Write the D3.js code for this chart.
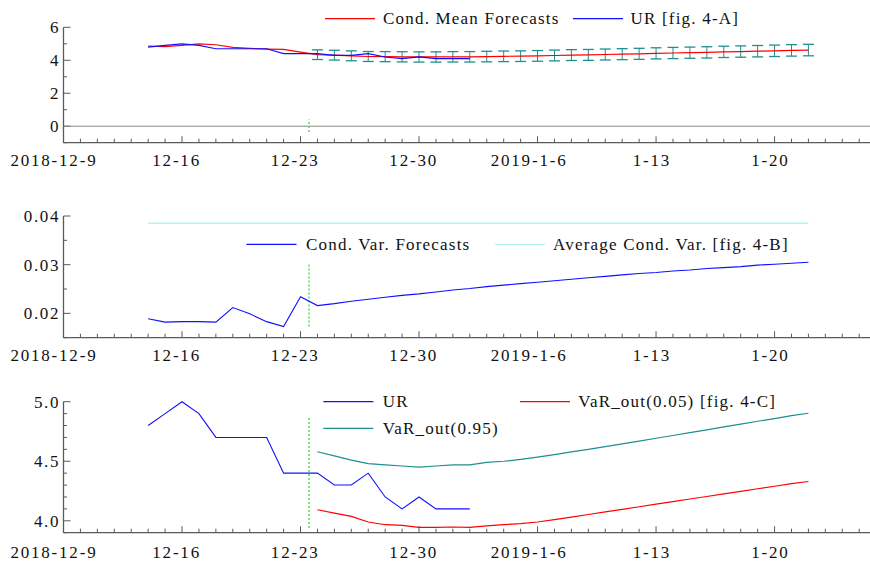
<!DOCTYPE html>
<html>
<head>
<meta charset="utf-8">
<script src="https://cdn.jsdelivr.net/npm/d3@7"></script>
<style>
  html, body { margin: 0; padding: 0; background: #fff; }
</style>
</head>
<body>
<svg id="chart" width="870" height="562"></svg>
<script>
// ---------------- DATA ----------------
const dates = [
  "2018-12-14","2018-12-15","2018-12-16","2018-12-17","2018-12-18","2018-12-19","2018-12-20",
  "2018-12-21","2018-12-22","2018-12-23","2018-12-24","2018-12-25","2018-12-26","2018-12-27",
  "2018-12-28","2018-12-29","2018-12-30","2018-12-31","2019-01-01","2019-01-02","2019-01-03",
  "2019-01-04","2019-01-05","2019-01-06","2019-01-07","2019-01-08","2019-01-09","2019-01-10",
  "2019-01-11","2019-01-12","2019-01-13","2019-01-14","2019-01-15","2019-01-16","2019-01-17",
  "2019-01-18","2019-01-19","2019-01-20","2019-01-21","2019-01-22"
];
// observed UR (12-14 .. 1-2)
const urValues = [4.8,4.9,5.0,4.9,4.7,4.7,4.7,4.7,4.4,4.4,4.4,4.3,4.3,4.4,4.2,4.1,4.2,4.1,4.1,4.1];
// conditional mean (in-sample 12-14..12-23, forecasts 12-24..1-22)
const condMean = [4.86,4.83,4.90,5.00,4.94,4.78,4.72,4.68,4.66,4.49,
  4.34,4.31,4.27,4.23,4.22,4.21,4.20,4.20,4.21,4.21,4.225,4.24,4.25,4.265,4.29,4.315,4.325,
  4.35,4.37,4.39,4.42,4.44,4.46,4.48,4.51,4.53,4.55,4.575,4.60,4.62];
// error bar half widths for forecasts (12-24..1-22)
const errHalf = [0.294,0.297,0.300,0.302,0.305,0.308,0.310,0.312,0.315,0.317,0.319,0.321,0.323,
  0.325,0.327,0.329,0.331,0.332,0.334,0.336,0.337,0.339,0.340,0.342,0.343,0.344,0.346,0.347,0.348,0.349];
// conditional variance (12-14 .. 1-22)
const condVar = [0.0189,0.0182,0.0183,0.0183,0.0182,0.0212,0.0199,0.0183,0.0173,0.0234,
  0.0216,0.0220,0.0225,0.0229,0.0233,0.0237,0.0240,0.0244,0.0248,0.0251,0.0255,0.0258,0.0261,
  0.0264,0.0267,0.0270,0.0273,0.0276,0.0279,0.0282,0.0284,0.0287,0.0289,0.0292,0.0294,0.0296,
  0.0299,0.0301,0.0303,0.0305];
const avgCondVar = 0.0385;
// VaR bounds (12-24 .. 1-22)
const varHigh = [4.58,4.545,4.51,4.48,4.47,4.46,4.45,4.46,4.47,4.47,
  4.49,4.50,4.515,4.535,4.555,4.578,4.60,
  4.622,4.646,4.669,4.693,4.716,4.740,4.763,4.788,4.811,4.836,4.858,4.883,4.903];
const varLow = [4.093,4.065,4.037,3.99,3.967,3.962,3.945,3.945,3.948,3.945,
  3.958,3.967,3.976,3.99,4.01,4.03,4.053,
  4.075,4.096,4.118,4.14,4.161,4.183,4.204,4.226,4.247,4.269,4.29,4.312,4.33];
const forecastOrigin = "2018-12-23T12:00";
const xTickDates = ["2018-12-09","2018-12-16","2018-12-23","2018-12-30","2019-01-06","2019-01-13","2019-01-20"];
const xTickLabels = ["2018-12-9","12-16","12-23","12-30","2019-1-6","1-13","1-20"];
const topYMajor = [0,2,4,6], topYMinor = [-1,1,3,5];
const midYMajor = [0.02,0.03,0.04], midYMinor = [0.015,0.025,0.035];
const botYMajor = [4.0,4.5,5.0], botYMinor = [3.9,4.1,4.2,4.3,4.4,4.6,4.7,4.8,4.9];
const topYLabels = ["0","2","4","6"], midYLabels = ["0.02","0.03","0.04"], botYLabels = ["4.0","4.5","5.0"];

// ---------------- SETUP ----------------
const FAMILY = '"Liberation Serif", serif';
const parse = s => new Date(s + (s.length === 10 ? "T00:00:00Z" : ":00Z"));
const svg = d3.select("#chart");
svg.append("rect").attr("width", 870).attr("height", 562).attr("fill", "#fff");

const x = d3.scaleUtc()
  .domain([parse("2018-12-09"), parse("2019-01-26")])
  .range([63.5, 63.5 + 48 * 16.93]);
const X_RIGHT = 870;

const C = { red: "#ff0000", blue: "#1010ff", teal: "#1f8f8f", cyan: "#b0f6f6", green: "#5ad85a", axis: "#5a5a5a", zero: "#8a8a8a" };
const FONT = 17;

const allDays = d3.utcDay.range(parse("2018-12-09"), parse("2019-01-27"));

function txt(sel) {
  return sel.style("font-family", FAMILY).attr("font-size", FONT).attr("fill", "#111");
}

function panel(cfg) {
  const y = d3.scaleLinear().domain(cfg.domain).range([cfg.bottom, cfg.top]);
  const g = svg.append("g");
  g.append("line").attr("x1", x.range()[0]).attr("x2", X_RIGHT)
    .attr("y1", cfg.bottom).attr("y2", cfg.bottom).attr("stroke", C.axis).attr("stroke-width", 1.3);
  g.append("line").attr("x1", x.range()[0]).attr("x2", x.range()[0])
    .attr("y1", cfg.top).attr("y2", cfg.bottom).attr("stroke", C.axis).attr("stroke-width", 1.3);
  const majorSet = new Set(xTickDates);
  g.selectAll(".xt").data(allDays).enter().append("line")
    .attr("x1", d => x(d)).attr("x2", d => x(d))
    .attr("y1", cfg.bottom)
    .attr("y2", d => cfg.bottom - (majorSet.has(d.toISOString().slice(0,10)) ? 6.5 : 4))
    .attr("stroke", C.axis).attr("stroke-width", 1);
  txt(g.selectAll(".xl").data(xTickDates).enter().append("text"))
    .attr("y", cfg.bottom + cfg.labelDy)
    .attr("text-anchor", "middle").style("letter-spacing", "1.8px")
    .text((d, i) => xTickLabels[i])
    .attr("x", function(d) { return x(parse(d)) - 0.11 * this.getComputedTextLength(); });
  g.selectAll(".ymj").data(cfg.major).enter().append("line")
    .attr("x1", x.range()[0]).attr("x2", x.range()[0] + 7)
    .attr("y1", d => y(d)).attr("y2", d => y(d)).attr("stroke", C.axis);
  g.selectAll(".ymn").data(cfg.minor).enter().append("line")
    .attr("x1", x.range()[0]).attr("x2", x.range()[0] + 3.5)
    .attr("y1", d => y(d)).attr("y2", d => y(d)).attr("stroke", C.axis);
  txt(g.selectAll(".yl").data(cfg.major).enter().append("text"))
    .attr("x", 60).attr("y", d => y(d)).attr("dy", "0.35em")
    .attr("text-anchor", "end").style("letter-spacing", "1.6px")
    .text((d, i) => cfg.labels[i]);
  return { g, y };
}

function legendItem(g, x1, yy, color, label, tx) {
  g.append("line").attr("x1", x1).attr("x2", x1 + 50).attr("y1", yy).attr("y2", yy)
    .attr("stroke", color).attr("stroke-width", 1.3);
  txt(g.append("text")).attr("x", tx).attr("y", yy).attr("dy", "0.33em")
    .style("letter-spacing", "1.2px").text(label);
}

function originMarker(g, y, span) {
  g.append("line").attr("x1", x(parse(forecastOrigin))).attr("x2", x(parse(forecastOrigin)))
    .attr("y1", y(span[0])).attr("y2", y(span[1]))
    .attr("stroke", C.green).attr("stroke-width", 1.5).attr("stroke-dasharray", "2,2");
}

const dDates = dates.map(parse);
const fDates = dDates.slice(10);
const hDates = dDates.slice(0, urValues.length);

// ---------------- TOP PANEL ----------------
{
  const { g, y } = panel({ domain: [-1, 6], top: 27.3, bottom: 142.7, labelDy: 23,
    major: topYMajor, minor: topYMinor, labels: topYLabels });
  g.append("line").attr("x1", x.range()[0]).attr("x2", X_RIGHT)
    .attr("y1", y(0)).attr("y2", y(0)).attr("stroke", C.zero).attr("stroke-width", 1);
  originMarker(g, y, [-0.35, 0.4]);
  const eb = g.selectAll(".eb").data(fDates.map((d, i) => ({ d, m: condMean[10 + i], h: errHalf[i] })))
    .enter().append("g");
  eb.append("line").attr("x1", d => x(d.d)).attr("x2", d => x(d.d))
    .attr("y1", d => y(d.m - d.h)).attr("y2", d => y(d.m + d.h)).attr("stroke", C.teal);
  eb.append("line").attr("x1", d => x(d.d) - 5.5).attr("x2", d => x(d.d) + 5.5)
    .attr("y1", d => y(d.m + d.h)).attr("y2", d => y(d.m + d.h)).attr("stroke", C.teal).attr("stroke-width", 1.3);
  eb.append("line").attr("x1", d => x(d.d) - 5.5).attr("x2", d => x(d.d) + 5.5)
    .attr("y1", d => y(d.m - d.h)).attr("y2", d => y(d.m - d.h)).attr("stroke", C.teal).attr("stroke-width", 1.3);
  g.append("path").attr("d", d3.line()(dDates.map((d, i) => [x(d), y(condMean[i])])))
    .attr("fill", "none").attr("stroke", C.red).attr("stroke-width", 1.2);
  g.append("path").attr("d", d3.line()(hDates.map((d, i) => [x(d), y(urValues[i])])))
    .attr("fill", "none").attr("stroke", C.blue).attr("stroke-width", 1.2);
  legendItem(g, 325, 18.7, C.red, "Cond. Mean Forecasts", 383);
  legendItem(g, 573, 18.7, C.blue, "UR [fig. 4-A]", 630.5);
}

// ---------------- MIDDLE PANEL ----------------
{
  const { g, y } = panel({ domain: [0.015, 0.04], top: 216, bottom: 337.7, labelDy: 23.5,
    major: midYMajor, minor: midYMinor, labels: midYLabels });
  g.append("line").attr("x1", x(dDates[0])).attr("x2", x(dDates[dDates.length - 1]))
    .attr("y1", y(avgCondVar)).attr("y2", y(avgCondVar)).attr("stroke", C.cyan).attr("stroke-width", 1.6);
  originMarker(g, y, [0.0173, 0.030]);
  g.append("path").attr("d", d3.line()(dDates.map((d, i) => [x(d), y(condVar[i])])))
    .attr("fill", "none").attr("stroke", C.blue).attr("stroke-width", 1.1);
  legendItem(g, 246.5, 244.3, C.blue, "Cond. Var. Forecasts", 306);
  legendItem(g, 495, 244.3, C.cyan, "Average Cond. Var. [fig. 4-B]", 553);
}

// ---------------- BOTTOM PANEL ----------------
{
  const { g, y } = panel({ domain: [3.9, 5.0], top: 401.7, bottom: 532.7, labelDy: 25.7,
    major: botYMajor, minor: botYMinor, labels: botYLabels });
  originMarker(g, y, [3.94, 4.88]);
  g.append("path").attr("d", d3.line()(fDates.map((d, i) => [x(d), y(varHigh[i])])))
    .attr("fill", "none").attr("stroke", C.teal).attr("stroke-width", 1.2);
  g.append("path").attr("d", d3.line()(fDates.map((d, i) => [x(d), y(varLow[i])])))
    .attr("fill", "none").attr("stroke", C.red).attr("stroke-width", 1.2);
  g.append("path").attr("d", d3.line()(hDates.map((d, i) => [x(d), y(urValues[i])])))
    .attr("fill", "none").attr("stroke", C.blue).attr("stroke-width", 1.1);
  legendItem(g, 323.3, 401.7, C.blue, "UR", 382.7);
  legendItem(g, 520, 401.7, C.red, "VaR_out(0.05) [fig. 4-C]", 578.3);
  legendItem(g, 323.3, 428.3, C.teal, "VaR_out(0.95)", 382.7);
}
</script>
</body>
</html>
